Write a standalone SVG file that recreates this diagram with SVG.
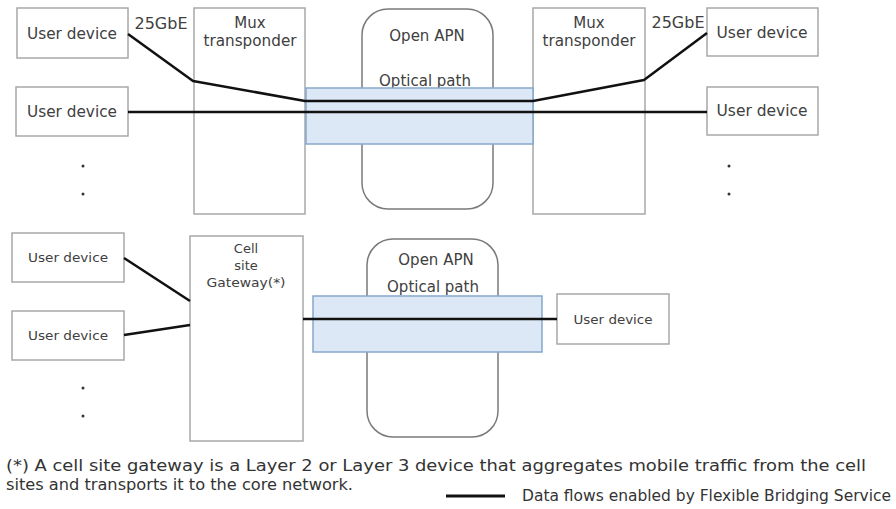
<svg xmlns="http://www.w3.org/2000/svg" width="896" height="509" viewBox="0 0 896 509">
<defs>
<style>
.box{fill:#fff;stroke:#a8a8a8;stroke-width:1.5}
.apn{fill:#fff;stroke:#7a7a7a;stroke-width:1.5}
.path{fill:#dce8f5;stroke:#86a6cc;stroke-width:1.5}
.t{font-family:"DejaVu Sans","Verdana",sans-serif;fill:#404040;text-anchor:middle}
.t15{font-size:15px}
.t13{font-size:13px}
.flow{fill:none;stroke:#111;stroke-width:2.5;stroke-linejoin:round}
.dot{fill:#333}
.foot{font-family:"DejaVu Sans Condensed","DejaVu Sans",sans-serif;fill:#333;font-size:16px}
</style>
</defs>
<rect width="896" height="509" fill="#fff"/>

<!-- Top section -->
<g id="apn-top">
<rect class="apn" x="362" y="9" width="131" height="200" rx="26"/>
<text class="t t15" x="427" y="41">Open APN</text>
<text class="t t15" x="425" y="86">Optical path</text>
</g>
<g id="mux-left">
<rect class="box" x="194" y="8" width="111" height="206"/>
<text class="t t15" x="250" y="28">Mux</text>
<text class="t t15" x="250" y="46" textLength="93" lengthAdjust="spacingAndGlyphs">transponder</text>
</g>
<g id="mux-right">
<rect class="box" x="533" y="8" width="112" height="206"/>
<text class="t t15" x="589" y="28">Mux</text>
<text class="t t15" x="589" y="46" textLength="93" lengthAdjust="spacingAndGlyphs">transponder</text>
</g>
<g id="optical-path-top">
<rect class="path" x="306" y="88" width="227" height="56"/>
</g>
<g id="ud-tl1">
<rect class="box" x="17" y="8" width="111" height="50"/>
<text class="t t15" x="72" y="39" textLength="90" lengthAdjust="spacingAndGlyphs">User device</text>
</g>
<g id="ud-tl2">
<rect class="box" x="16" y="87" width="112" height="49"/>
<text class="t t15" x="72" y="117" textLength="90" lengthAdjust="spacingAndGlyphs">User device</text>
</g>
<g id="ud-tr1">
<rect class="box" x="707" y="8" width="111" height="48"/>
<text class="t t15" x="762" y="38" textLength="91" lengthAdjust="spacingAndGlyphs">User device</text>
</g>
<g id="ud-tr2">
<rect class="box" x="707" y="87" width="111" height="48"/>
<text class="t t15" x="762" y="116" textLength="91" lengthAdjust="spacingAndGlyphs">User device</text>
</g>
<g id="labels-top">
<text class="t t15" x="161" y="29" textLength="53" lengthAdjust="spacingAndGlyphs">25GbE</text>
<text class="t t15" x="678" y="28" textLength="53" lengthAdjust="spacingAndGlyphs">25GbE</text>
<circle class="dot" cx="83" cy="166" r="1.5"/>
<circle class="dot" cx="83" cy="194" r="1.5"/>
<circle class="dot" cx="729" cy="166" r="1.5"/>
<circle class="dot" cx="729" cy="194" r="1.5"/>
</g>

<!-- Bottom section -->
<g id="apn-bottom">
<rect class="apn" x="367" y="239" width="131" height="198" rx="26"/>
<text class="t t15" x="436" y="265">Open APN</text>
<text class="t t15" x="433" y="292">Optical path</text>
</g>
<g id="gateway">
<rect class="box" x="190" y="236" width="113" height="205"/>
<text class="t t13" x="246" y="253">Cell</text>
<text class="t t13" x="246" y="270">site</text>
<text class="t t13" x="246" y="287" textLength="79" lengthAdjust="spacingAndGlyphs">Gateway(*)</text>
</g>
<g id="optical-path-bottom">
<rect class="path" x="313" y="296" width="229" height="56"/>
</g>
<g id="ud-bl1">
<rect class="box" x="12" y="233" width="112" height="49"/>
<text class="t t13" x="68" y="262" textLength="80" lengthAdjust="spacingAndGlyphs">User device</text>
</g>
<g id="ud-bl2">
<rect class="box" x="12" y="311" width="112" height="49"/>
<text class="t t13" x="68" y="340" textLength="80" lengthAdjust="spacingAndGlyphs">User device</text>
</g>
<g id="ud-br">
<rect class="box" x="557" y="294" width="112" height="50"/>
<text class="t t13" x="613" y="324" textLength="79" lengthAdjust="spacingAndGlyphs">User device</text>
</g>
<g id="dots-bottom">
<circle class="dot" cx="83" cy="388" r="1.5"/>
<circle class="dot" cx="83" cy="416" r="1.5"/>
</g>

<!-- Connectors -->
<g id="connectors">
<polyline class="flow" points="128,34 193,81 305,101 533,101 644,80 707,33"/>
<line class="flow" x1="128" y1="112" x2="707" y2="112"/>
<line class="flow" x1="124" y1="258" x2="190" y2="301"/>
<line class="flow" x1="124" y1="335" x2="190" y2="325"/>
<line class="flow" x1="303" y1="319" x2="557" y2="319"/>
</g>

<!-- Footer -->
<g id="footer">
<text class="foot" x="6" y="471" textLength="860" lengthAdjust="spacingAndGlyphs">(*) A cell site gateway is a Layer 2 or Layer 3 device that aggregates mobile traffic from the cell</text>
<text class="foot" x="6" y="490" textLength="347" lengthAdjust="spacingAndGlyphs">sites and transports it to the core network.</text>
<line x1="446" y1="496" x2="505" y2="496" stroke="#111" stroke-width="3"/>
<text class="foot" x="522" y="501" font-size="14" textLength="369" lengthAdjust="spacingAndGlyphs">Data flows enabled by Flexible Bridging Service</text>
</g>
</svg>
